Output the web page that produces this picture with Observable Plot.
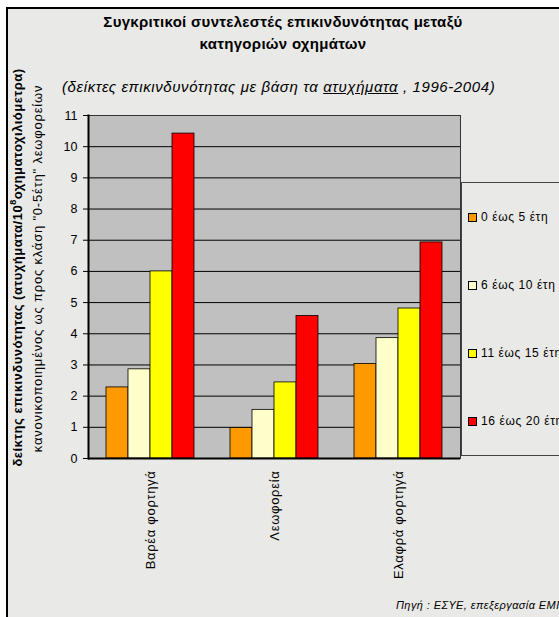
<!DOCTYPE html>
<html>
<head>
<meta charset="utf-8">
<script src="https://cdn.jsdelivr.net/npm/d3@7"></script>
<script src="https://cdn.jsdelivr.net/npm/@observablehq/plot@0.6"></script>
<style>
  html, body { margin: 0; padding: 0; background: #fff; }
  #wrap { position: relative; width: 559px; height: 617px; overflow: hidden; font-family: "Liberation Sans", Arial, sans-serif; color: #000; }
  #box { position: absolute; left: 6px; top: 7px; width: 600px; height: 700px; background: #e9e9e7; border-left: 2px solid #000; border-top: 2px solid #000; }
  .abs { position: absolute; white-space: nowrap; }
  #chart { position: absolute; left: 0; top: 0; }
  .rot { transform: rotate(-90deg); transform-origin: 50% 50%; text-align: center; }
  #legend { position: absolute; left: 461px; top: 182px; width: 200px; height: 272px; border-top: 1px solid #444; border-bottom: 1px solid #444; border-left: 1px solid #444; display: flex; flex-direction: column; justify-content: space-around; }
  .li { display: flex; align-items: center; font-size: 12px; letter-spacing: 0.6px; padding-left: 6px; }
  .sw { width: 7px; height: 7px; border: 1px solid #000; margin-right: 4px; }
  #chart g[aria-label="fx-axis tick label"] text { letter-spacing: 0.7px; }
</style>
</head>
<body>
<div id="wrap">
  <div id="box"></div>
  <div id="chart"></div>
  <div class="abs" style="left:0;width:566px;top:11px;text-align:center;font-weight:bold;font-size:15px;letter-spacing:0.3px;line-height:22px;">Συγκριτικοί συντελεστές επικινδυνότητας μεταξύ<br>κατηγοριών οχημάτων</div>
  <div class="abs" style="left:62px;top:78px;font-style:italic;font-size:15px;letter-spacing:0.6px;">(δείκτες επικινδυνότητας με βάση τα <u>ατυχήματα</u> , 1996-2004)</div>
  <div class="abs rot" style="left:-233px;top:259px;width:500px;height:17px;line-height:17px;font-weight:bold;font-size:13px;letter-spacing:0.5px;">δείκτης επικινδυνότητας (ατυχήματα/10<sup style="font-size:9px;line-height:0">8</sup>οχηματοχιλιόμετρα)</div>
  <div class="abs rot" style="left:-213px;top:260px;width:500px;height:17px;line-height:17px;font-size:13px;letter-spacing:0.8px;">κανονικοποιημένος ως προς κλάση "0-5έτη" λεωφορείων</div>
  <div id="legend"></div>
  <div class="abs" style="left:396px;top:599px;font-style:italic;font-size:11px;letter-spacing:0.4px;">Πηγή : ΕΣΥΕ, επεξεργασία ΕΜΠ</div>
</div>
<script>
const categories = ["Βαρέα φορτηγά", "Λεωφορεία", "Ελαφρά φορτηγά"];
const seriesNames = ["0 έως 5 έτη", "6 έως 10 έτη", "11 έως 15 έτη", "16 έως 20 έτη"];
const colors = ["#FF9900", "#FFFFCC", "#FFFF00", "#FF0000"];
const values0to5 = [2.28, 0.98, 3.03];
const values6to10 = [2.86, 1.56, 3.86];
const values11to15 = [6.0, 2.44, 4.81];
const values16to20 = [10.42, 4.57, 6.93];
const yTicks = [0,1,2,3,4,5,6,7,8,9,10,11];

const seriesValues = [values0to5, values6to10, values11to15, values16to20];
const data = [];
categories.forEach((c, i) => seriesNames.forEach((s, j) => data.push({cat: c, series: s, value: seriesValues[j][i]})));

const plot = Plot.plot({
  width: 559, height: 617,
  marginLeft: 87, marginRight: 98, marginTop: 115, marginBottom: 159,
  style: {fontFamily: "Liberation Sans, Arial, sans-serif", fontSize: "12px", background: "transparent", color: "#000", overflow: "visible"},
  fx: {domain: categories, padding: 0, label: null},
  x: {domain: seriesNames, paddingInner: 0, paddingOuter: 0.79, axis: null},
  y: {domain: [0, 11], label: null},
  color: {domain: seriesNames, range: colors},
  marks: [
    Plot.frame({fill: "#c0c0c0", facet: "super"}),
    Plot.gridY(yTicks, {stroke: "#000", strokeOpacity: 1, strokeWidth: 1}),
    Plot.barY(data, {fx: "cat", x: "series", y: "value", fill: "series", stroke: "#000", strokeWidth: 0.8}),
    Plot.frame({stroke: "#333", facet: "super"}),
    Plot.ruleY([0], {stroke: "#000", strokeWidth: 2}),
    Plot.frame({anchor: "left", stroke: "#000", strokeWidth: 2, facet: "super"}),
    Plot.axisY(yTicks, {tickSize: 5, fontSize: 12.5, label: null, tickPadding: 6}),
    Plot.axisFx({anchor: "bottom", tickRotate: -90, tickSize: 0, tickPadding: 12, fontSize: 13, label: null})
  ]
});
document.getElementById("chart").appendChild(plot);

const legend = document.getElementById("legend");
seriesNames.forEach((s, i) => {
  const d = document.createElement("div");
  d.className = "li";
  d.innerHTML = `<span class="sw" style="background:${colors[i]}"></span><span>${s}</span>`;
  legend.appendChild(d);
});
</script>
</body>
</html>
